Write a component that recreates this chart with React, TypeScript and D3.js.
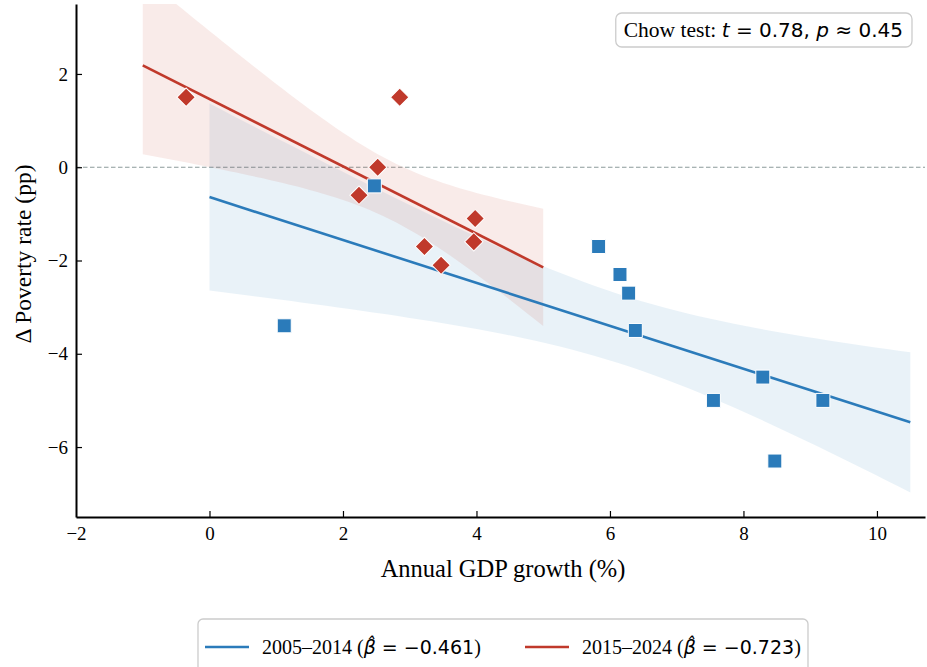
import { useEffect, useRef } from 'react';
import * as d3 from 'd3';

const earlyGrowth = [1.12, 2.47, 5.83, 6.15, 6.28, 6.38, 7.55, 8.29, 8.47, 9.19];
const earlyPoverty = [-3.4, -0.4, -1.7, -2.3, -2.7, -3.5, -5.0, -4.5, -6.3, -5.0];
const lateGrowth = [-0.35, 2.85, 2.52, 2.24, 3.98, 3.96, 3.22, 3.47];
const latePoverty = [1.5, 1.5, 0.0, -0.6, -1.1, -1.6, -1.7, -2.1];

const earlySpan = [0, 10.5];
const lateSpan = [-1, 5];

const xTicks = [-2, 0, 2, 4, 6, 8, 10];
const yTicks = [-6, -4, -2, 0, 2];

const periodLabels = ['2005–2014', '2015–2024'];
const slopeLabels = ['−0.461', '−0.723'];
const chowStats = ['0.78', '0.45'];

const BLUE = '#2b7bba';
const RED = '#c0392b';
const SERIF = '"Liberation Serif", "Times New Roman", serif';
const SANS = '"DejaVu Sans", sans-serif';
const BAND_MULT = 1.68;

const W = 927;
const H = 667;

function fitLine(xs: number[], ys: number[]) {
  const n = xs.length;
  const mx = d3.mean(xs)!;
  const my = d3.mean(ys)!;
  let sxx = 0, sxy = 0;
  xs.forEach((x, i) => { sxx += (x - mx) ** 2; sxy += (x - mx) * (ys[i] - my); });
  const slope = sxy / sxx;
  const icpt = my - slope * mx;
  let sse = 0;
  xs.forEach((x, i) => { sse += (ys[i] - icpt - slope * x) ** 2; });
  const s = Math.sqrt(sse / (n - 2));
  const at = (x: number) => icpt + slope * x;
  const half = (x: number) => BAND_MULT * s * Math.sqrt(1 / n + (x - mx) ** 2 / sxx);
  return { at, half };
}

export default function App() {
  const svgRef = useRef<SVGSVGElement>(null);

  useEffect(() => {
    if (!svgRef.current) return;
    const root = d3.select(svgRef.current);
    root.selectAll('*').remove();

    const x = d3.scaleLinear().domain([-2, 10.72]).range([76, 925]);
    const y = d3.scaleLinear().domain([-7.5, 3.5]).range([517, 4]);

    root.append('defs').append('clipPath').attr('id', 'plot-clip')
      .append('rect').attr('x', 76).attr('y', 4).attr('width', 849).attr('height', 513);

    const plot = root.append('g').attr('clip-path', 'url(#plot-clip)');

    // zero reference line
    plot.append('line')
      .attr('x1', 76).attr('x2', 925)
      .attr('y1', y(0)).attr('y2', y(0))
      .attr('stroke', '#8c9a9b').attr('stroke-width', 1.2)
      .attr('stroke-dasharray', '4.5,2.5');

    const groups = [
      { xs: earlyGrowth, ys: earlyPoverty, span: earlySpan, color: BLUE, marker: 'square' },
      { xs: lateGrowth, ys: latePoverty, span: lateSpan, color: RED, marker: 'diamond' },
    ];

    const fits = groups.map(g => fitLine(g.xs, g.ys));

    // confidence bands
    groups.forEach((g, i) => {
      const f = fits[i];
      const grid = d3.range(0, 61).map(k => g.span[0] + (g.span[1] - g.span[0]) * k / 60);
      const area = d3.area<number>()
        .x(v => x(v))
        .y0(v => y(f.at(v) - f.half(v)))
        .y1(v => y(f.at(v) + f.half(v)));
      plot.append('path').datum(grid)
        .attr('d', area)
        .attr('fill', g.color).attr('fill-opacity', 0.1);
    });

    // fitted lines
    groups.forEach((g, i) => {
      const f = fits[i];
      plot.append('line')
        .attr('x1', x(g.span[0])).attr('y1', y(f.at(g.span[0])))
        .attr('x2', x(g.span[1])).attr('y2', y(f.at(g.span[1])))
        .attr('stroke', g.color).attr('stroke-width', 2.6);
    });

    // markers
    const squarePath = d3.symbol(d3.symbolSquare, 14 * 14)()!;
    const diamondPath = d3.symbol(d3.symbolSquare, 13 * 13)()!;
    groups.forEach(g => {
      plot.append('g').selectAll('path')
        .data(g.xs.map((v, i) => [v, g.ys[i]]))
        .join('path')
        .attr('d', g.marker === 'square' ? squarePath : diamondPath)
        .attr('transform', d => `translate(${x(d[0])},${y(d[1])})${g.marker === 'diamond' ? ' rotate(45)' : ''}`)
        .attr('fill', g.color)
        .attr('stroke', '#fff').attr('stroke-width', 1);
    });

    // axes
    const xAxis = root.append('g')
      .attr('transform', 'translate(0,517)')
      .call(d3.axisBottom(x).tickValues(xTicks).tickSizeInner(-6).tickSizeOuter(0).tickPadding(10));
    const yAxis = root.append('g')
      .attr('transform', 'translate(76,0)')
      .call(d3.axisLeft(y).tickValues(yTicks).tickSizeInner(-6).tickSizeOuter(0).tickPadding(8));
    [xAxis, yAxis].forEach(ax => {
      ax.select('.domain').attr('stroke', '#000').attr('stroke-width', 2);
      ax.selectAll('.tick line').attr('stroke', '#000').attr('stroke-width', 1.2);
      ax.selectAll('.tick text')
        .attr('font-family', SERIF).attr('font-size', 19).attr('fill', '#000');
    });
    xAxis.selectAll('.tick').filter(d => d === -2).select('line').remove();

    // axis labels
    root.append('text')
      .attr('x', 503).attr('y', 577)
      .attr('text-anchor', 'middle')
      .attr('font-family', SERIF).attr('font-size', 24.5)
      .text('Annual GDP growth (%)');
    root.append('text')
      .attr('transform', 'translate(31,254) rotate(-90)')
      .attr('text-anchor', 'middle')
      .attr('font-family', SERIF).attr('font-size', 23.5)
      .text('Δ Poverty rate (pp)');

    // Chow test annotation
    const chow = root.append('g');
    const chowBox = chow.append('rect');
    const chowText = chow.append('text')
      .attr('x', 903).attr('y', 37)
      .attr('text-anchor', 'end')
      .attr('font-size', 20);
    chowText.append('tspan').attr('font-family', SERIF).attr('font-size', 21.5).text('Chow test: ');
    chowText.append('tspan').attr('font-family', SANS).attr('font-style', 'italic').text('t');
    chowText.append('tspan').attr('font-family', SANS).text(` = ${chowStats[0]}, `);
    chowText.append('tspan').attr('font-family', SANS).attr('font-style', 'italic').text('p');
    chowText.append('tspan').attr('font-family', SANS).text(` ≈ ${chowStats[1]}`);
    const cb = (chowText.node() as SVGTextElement).getBBox();
    chowBox
      .attr('x', cb.x - 8).attr('y', 13)
      .attr('width', cb.width + 17).attr('height', 34)
      .attr('rx', 6)
      .attr('fill', '#fff').attr('stroke', '#cccccc').attr('stroke-width', 1.3);

    // legend
    const legend = root.append('g');
    legend.append('rect')
      .attr('x', 198).attr('y', 619).attr('width', 610).attr('height', 70)
      .attr('rx', 5)
      .attr('fill', '#fff').attr('stroke', '#cccccc').attr('stroke-width', 1.3);
    const entryX = [205, 525];
    groups.forEach((g, i) => {
      const ex = entryX[i];
      legend.append('line')
        .attr('x1', ex).attr('x2', ex + 44)
        .attr('y1', 647).attr('y2', 647)
        .attr('stroke', g.color).attr('stroke-width', 2.6);
      const t = legend.append('text')
        .attr('x', ex + 57).attr('y', 654)
        .attr('font-size', 19);
      t.append('tspan').attr('font-family', SERIF).attr('font-size', 20).text(`${periodLabels[i]} (`);
      t.append('tspan').attr('font-family', SANS).attr('font-style', 'italic').text('β\u0302');
      t.append('tspan').attr('font-family', SANS).text(` = ${slopeLabels[i]}`);
      t.append('tspan').attr('font-family', SERIF).attr('font-size', 20).text(')');
    });
  }, []);

  return (
    <svg
      ref={svgRef}
      width={W}
      height={H}
      style={{ position: 'absolute', left: 0, top: 0, background: '#fff' }}
    />
  );
}
